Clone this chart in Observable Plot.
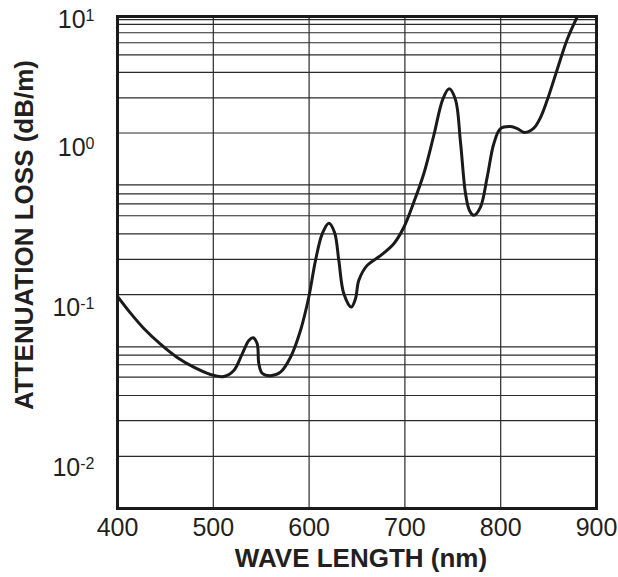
<!DOCTYPE html>
<html><head><meta charset="utf-8">
<script src="https://cdn.jsdelivr.net/npm/d3@7"></script>
<script src="https://cdn.jsdelivr.net/npm/@observablehq/plot@0.6"></script>
<style>
body{margin:0;background:#fff;}
</style></head><body><div id="chart"></div>
<script>
const wavelength = [400, 413.6, 427.5, 444.9, 462.3, 479.6, 497.1, 511, 521.4, 530.2, 537.1, 541.6, 545.8, 547.5, 551, 559.7, 570.1, 580.6, 591, 599.7, 606.7, 613.7, 620.6, 626.5, 631, 636.2, 643.9, 648.4, 651.9, 660.6, 674.5, 688.4, 698.9, 709.3, 719.7, 730.2, 739.8, 746.2, 752.8, 758, 763.3, 767.4, 771.9, 778.9, 785.9, 792.8, 799.8, 810.2, 817.5, 824.8, 834.6, 841.5, 848.5, 859, 869.4, 880];
const loss = [0.119, 0.0935, 0.0750, 0.0598, 0.0494, 0.0430, 0.0387, 0.0376, 0.0410, 0.0521, 0.0631, 0.0656, 0.0602, 0.0453, 0.0394, 0.0380, 0.0400, 0.0496, 0.0729, 0.118, 0.200, 0.293, 0.341, 0.300, 0.200, 0.124, 0.102, 0.115, 0.150, 0.186, 0.214, 0.254, 0.322, 0.462, 0.695, 1.21, 2.05, 2.36, 2.02, 1.10, 0.521, 0.410, 0.382, 0.430, 0.662, 1.07, 1.33, 1.37, 1.33, 1.26, 1.34, 1.56, 2.00, 3.12, 4.80, 6.68];
const xTicks = [400, 500, 600, 700, 800, 900];
const xGrid = [500, 600, 700, 800];
const yTickValues = [6.31, 1, 0.1, 0.01];
const yTickBase = ["10", "10", "10", "10"];
const yTickExp = ["1", "0", "-1", "-2"];
const yGrid = [6.38, 5.96, 5.29, 4.58, 3.85, 2.99, 2.07, 1.25, 0.593, 0.521, 0.451, 0.380, 0.293, 0.203, 0.122, 0.0576, 0.0511, 0.0445, 0.0372, 0.0286, 0.0199, 0.0119];
const xTitle = "WAVE LENGTH (nm)";
const yTitle = "ATTENUATION LOSS (dB/m)";

const data = wavelength.map((w, i) => ({w, v: loss[i]}));
const yLabels = yTickValues.map((v, i) => ({v, label: yTickBase[i] + "^" + yTickExp[i]}));

const chart = Plot.plot({
  width: 618, height: 577,
  marginLeft: 117, marginRight: 22, marginTop: 16, marginBottom: 69,
  style: {fontFamily: "'Liberation Sans', Arial, sans-serif", fontSize: "25px", color: "#231f20", background: "#fff"},
  x: {domain: [400, 900]},
  y: {type: "log", domain: [0.005623, 6.683], axis: null},
  marks: [
    Plot.ruleY(yGrid, {stroke: "#2a2a2a", strokeWidth: 1.2}),
    Plot.ruleX(xGrid, {stroke: "#2a2a2a", strokeWidth: 1.2}),
    Plot.line(data, {x: "w", y: "v", curve: "catmull-rom", stroke: "#1a1a1a", strokeWidth: 3, clip: true}),
    Plot.frame({stroke: "#1a1a1a", strokeWidth: 3}),
    Plot.axisX({ticks: xTicks, tickSize: 0, tickPadding: 10, label: null, fontSize: 25, tickFormat: d => String(d)}),
    Plot.text(yLabels, {y: "v", text: "label", frameAnchor: "left", dx: -23, textAnchor: "end", lineAnchor: "middle", fontSize: 25, className: "ylab"}),
    Plot.text([yTitle], {frameAnchor: "left", rotate: -90, dx: -93, dy: -27.5, textAnchor: "middle", lineAnchor: "middle", fontSize: 26, fontWeight: "bold"}),
    Plot.text([xTitle], {frameAnchor: "bottom", dx: 4, dy: 50.5, textAnchor: "middle", lineAnchor: "middle", fontSize: 26, fontWeight: "bold"})
  ]
});

chart.querySelectorAll('.ylab text').forEach(t => {
  const s = t.textContent.split("^");
  t.textContent = "";
  const ns = "http://www.w3.org/2000/svg";
  const a = document.createElementNS(ns, "tspan");
  a.textContent = s[0];
  const b = document.createElementNS(ns, "tspan");
  b.textContent = s[1];
  b.setAttribute("font-size", "16");
  b.setAttribute("dy", "-7.7");
  t.appendChild(a); t.appendChild(b);
});

document.getElementById("chart").appendChild(chart);
</script></body></html>
